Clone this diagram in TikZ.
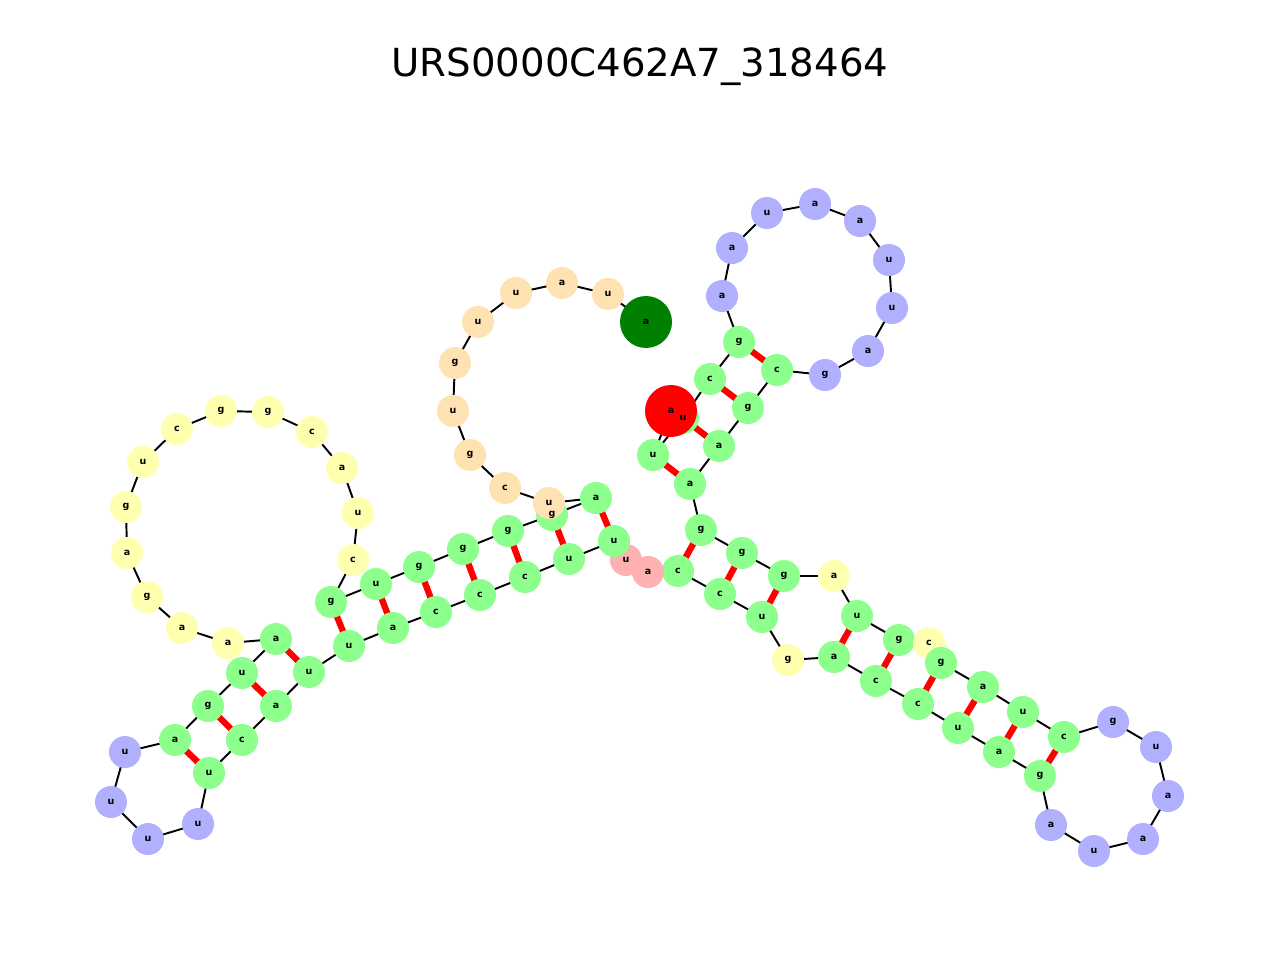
\documentclass[tikz,border=0pt]{standalone}
\usepackage{fontspec}
\setmainfont{DejaVu Sans}
\pgfdeclarelayer{background}
\pgfdeclarelayer{foreground}
\pgfsetlayers{background,main,foreground}
\definecolor{cG}{RGB}{140,255,140}
\definecolor{cB}{RGB}{176,176,255}
\definecolor{cY}{RGB}{255,255,176}
\definecolor{cO}{RGB}{255,226,178}
\definecolor{cP}{RGB}{255,176,176}
\definecolor{cE}{RGB}{0,128,0}
\definecolor{cR}{RGB}{255,0,0}
\begin{document}
\begin{tikzpicture}[x=0.02cm,y=-0.02cm,
  nt/.style={circle,fill=#1,minimum size=0.64cm,inner sep=0pt},
  big/.style={circle,fill=#1,minimum size=1.04cm,inner sep=0pt},
  bb/.style={line width=1.1pt,black},
  bp/.style={line width=3.6pt,cR},
  lab/.style={font=\fontsize{5.4}{6}\selectfont\bfseries}]
\useasboundingbox (0,0) rectangle (1280,960);
\node[font=\fontsize{22}{26}\selectfont] (title) at (640,67) {URS0000C462A7\_318464};
\def\seq{2/653/455/u/cG,3/683/418/u/cG,4/710/379/c/cG,5/739/342/g/cG,6/722/296/a/cB,7/732/248/a/cB,8/767/213/u/cB,9/815/204/a/cB,10/860/221/a/cB,11/889/260/u/cB,12/892/308/u/cB,13/868/351/a/cB,14/825/375/g/cB,15/777/370/c/cG,16/748/408/g/cG,17/719/446/a/cG,18/690/484/a/cG,19/701/530/g/cG,20/742/553/g/cG,21/784/576/g/cG,22/834/576/a/cY,23/857/616/u/cG,24/899/640/g/cG,25/929/643/c/cY,26/941/663/g/cG,27/983/687/a/cG,28/1023/712/u/cG,29/1064/737/c/cG,30/1113/722/g/cB,31/1156/747/u/cB,32/1168/796/a/cB,33/1143/839/a/cB,34/1094/851/u/cB,35/1051/825/a/cB,36/1040/776/g/cG,37/999/752/a/cG,38/958/728/u/cG,39/918/704/c/cG,40/876/681/c/cG,41/834/657/a/cG,42/788/660/g/cY,43/762/617/u/cG,44/720/594/c/cG,45/678/571/c/cG,46/648/572/a/cP,47/626/560/u/cP,48/614/541/u/cG,49/569/559/u/cG,50/525/577/c/cG,51/480/595/c/cG,52/436/612/c/cG,53/393/628/a/cG,54/349/646/u/cG,55/309/672/u/cG,56/276/706/a/cG,57/242/740/c/cG,58/209/773/u/cG,59/198/824/u/cB,60/148/839/u/cB,61/111/802/u/cB,62/125/752/u/cB,63/175/740/a/cG,64/208/706/g/cG,65/242/673/u/cG,66/276/639/a/cG,67/228/643/a/cY,68/182/628/a/cY,69/147/597/g/cY,70/127/553/a/cY,71/126/507/g/cY,72/143/462/u/cY,73/177/429/c/cY,74/221/411/g/cY,75/268/412/g/cY,76/312/432/c/cY,77/342/468/a/cY,78/358/513/u/cY,79/353/560/c/cY,80/331/602/g/cG,81/376/584/u/cG,82/419/567/g/cG,83/463/549/g/cG,84/508/531/g/cG,85/552/515/g/cG,86/596/498/a/cG,87/549/503/u/cO,88/505/488/c/cO,89/470/455/g/cO,90/453/411/u/cO,91/455/363/g/cO,92/478/322/u/cO,93/516/293/u/cO,94/562/283/a/cO,95/608/294/u/cO}
\foreach \i/\x/\y/\l/\c in \seq {\node[nt=\c] (n\i) at (\x,\y) {};}
\node[big=cE] (n96) at (646,322) {};
\node[big=cR] (n1) at (671,411) {};
\begin{pgfonlayer}{background}
\foreach \i [evaluate=\i as \j using int(\i-1)] in {2,...,96} \draw[bb] (n\j.center) -- (n\i.center);
\foreach \a/\b in {2/18,3/17,4/16,5/15,19/45,20/44,21/43,23/41,24/40,26/39,27/38,28/37,29/36,48/86,49/85,50/84,51/83,52/82,53/81,54/80,55/66,56/65,57/64,58/63}
  \draw[bp] (n\a.center) -- (n\b.center);
\end{pgfonlayer}
\begin{pgfonlayer}{foreground}
\foreach \i/\x/\y/\l/\c in \seq {\node[lab] at (n\i) {\l};}
\node[lab] at (n1) {a};
\node[lab] at (n96) {a};
\end{pgfonlayer}
\end{tikzpicture}
\end{document}
